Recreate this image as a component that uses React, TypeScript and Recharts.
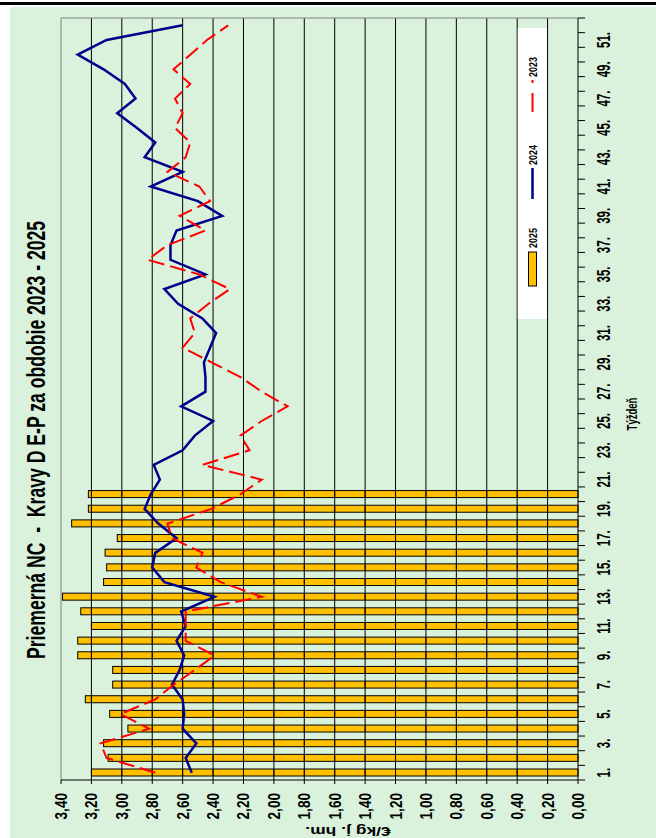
import React from 'react';
import { ComposedChart, Bar, Line, XAxis, YAxis, ReferenceLine } from 'recharts';

const WEEKS = [1,2,3,4,5,6,7,8,9,10,11,12,13,14,15,16,17,18,19,20,21,22,23,24,25,26,27,28,29,30,31,32,33,34,35,36,37,38,39,40,41,42,43,44,45,46,47,48,49,50,51,52];
const Y2025 = [3.20,3.09,3.12,2.96,3.08,3.24,3.06,3.06,3.29,3.29,3.20,3.27,3.39,3.12,3.10,3.11,3.03,3.33,3.22,3.22];
const Y2024 = [2.54,2.58,2.51,2.60,2.59,2.60,2.67,2.62,2.59,2.64,2.58,2.61,2.39,2.72,2.80,2.78,2.64,2.76,2.85,2.81,2.75,2.79,2.60,2.52,2.40,2.61,2.45,2.45,2.46,2.42,2.38,2.47,2.63,2.72,2.45,2.68,2.68,2.64,2.34,2.50,2.81,2.60,2.85,2.78,2.90,3.03,2.91,2.98,3.12,3.29,3.10,2.60];
const Y2023 = [2.78,3.10,3.14,2.82,3.01,2.78,2.66,2.52,2.39,2.58,2.58,2.58,2.08,2.35,2.51,2.47,2.67,2.70,2.41,2.22,2.08,2.47,2.16,2.22,2.08,1.91,2.08,2.22,2.41,2.60,2.52,2.55,2.43,2.29,2.49,2.83,2.70,2.45,2.62,2.42,2.49,2.70,2.58,2.55,2.65,2.60,2.65,2.55,2.66,2.55,2.44,2.30];
const Y_TICKS = [0,0.2,0.4,0.6,0.8,1.0,1.2,1.4,1.6,1.8,2.0,2.2,2.4,2.6,2.8,3.0,3.2,3.4];
const GRID_VALUES = [0.2,0.4,0.6,0.8,1.0,1.2,1.4,1.6,1.8,2.0,2.2,2.4,2.6,2.8,3.0,3.2];
const SERIES_NAMES = ['2025', '2024', '2023'];
const TITLE = 'Priemerná NC  -  Kravy D E-P za obdobie 2023 - 2025';
const X_TITLE = 'Týždeň';
const Y_TITLE = '€/kg j. hm.';

const data = WEEKS.map((w, i) => ({
  week: w,
  v2025: i < Y2025.length ? Y2025[i] : null,
  v2024: Y2024[i],
  v2023: Y2023[i],
}));

const W = 838;
const H = 656;
const PLOT_LEFT = 58;
const PLOT_RIGHT = 820;
const PLOT_TOP = 61;
const PLOT_BOTTOM = 578;
const BAND = (PLOT_RIGHT - PLOT_LEFT) / WEEKS.length;
const GREEN = '#DAF2DC';
const FONT = "'Liberation Sans', Arial, sans-serif";
const NAVY = '#00008B';
const RED = '#FF0000';
const GOLD = '#FFC000';

const XTick = (props: any) => {
  const { x, payload, index } = props;
  const cx = payload && typeof payload.coordinate === 'number' ? payload.coordinate : x;
  const half = BAND / 2;
  return (
    <g>
      <line x1={cx - half} x2={cx - half} y1={PLOT_BOTTOM} y2={PLOT_BOTTOM + 7} stroke="#000" strokeWidth={1} />
      {index === WEEKS.length - 1 && (
        <line x1={cx + half} x2={cx + half} y1={PLOT_BOTTOM} y2={PLOT_BOTTOM + 7} stroke="#000" strokeWidth={1} />
      )}
      {index % 2 === 0 && (
        <text
          transform={`translate(${cx},610) scale(0.66,1)`}
          textAnchor="middle"
          fontFamily={FONT}
          fontWeight="bold"
          fontSize={17.5}
          fill="#000"
        >
          {`${payload.value}.`}
        </text>
      )}
    </g>
  );
};

const YTick = (props: any) => {
  const { y, payload } = props;
  const label = Number(payload.value).toFixed(2).replace('.', ',');
  return (
    <g>
      <line x1={PLOT_LEFT - 4} x2={PLOT_LEFT} y1={y} y2={y} stroke="#000" strokeWidth={1} />
      <text
        transform={`translate(45,${y + 6}) scale(0.8,1)`}
        textAnchor="end"
        fontFamily={FONT}
        fontWeight="bold"
        fontSize={17}
        fill="#000"
      >
        {label}
      </text>
    </g>
  );
};

// Bar with the chart's gridlines re-drawn across it (gridlines sit on top of bars in the reference)
const BarShape = (props: any) => {
  const { x, y, width, height, value } = props;
  const v = Array.isArray(value) ? value[1] : value;
  if (!v || !height) return null;
  const perUnit = height / v;
  const base = y + height;
  return (
    <g>
      <rect x={x} y={y} width={width} height={height} fill={GOLD} stroke="#000" strokeWidth={1} />
      {GRID_VALUES.filter((g) => g < v).map((g) => (
        <line key={g} x1={x} x2={x + width} y1={base - g * perUnit} y2={base - g * perUnit} stroke="#000" strokeWidth={1} />
      ))}
    </g>
  );
};

const Overlay = () => (
  <svg width={W} height={H} style={{ position: 'absolute', left: 0, top: 0, pointerEvents: 'none', overflow: 'visible' }}>
    <line x1={PLOT_RIGHT} x2={PLOT_RIGHT} y1={PLOT_TOP} y2={PLOT_BOTTOM} stroke="#808080" strokeWidth={1} />
    <text
      transform="translate(398,45) scale(0.705,1)"
      textAnchor="middle"
      fontFamily={FONT}
      fontWeight="bold"
      fontSize={25}
      fill="#000"
      style={{ whiteSpace: 'pre' }}
    >
      {TITLE}
    </text>
    <text
      transform="translate(424,637) scale(0.68,1)"
      textAnchor="middle"
      fontFamily={FONT}
      fontWeight="bold"
      fontSize={14}
      fill="#000"
    >
      {X_TITLE}
    </text>
    <text
      transform="translate(11,348) scale(0.7,1) rotate(-90)"
      textAnchor="middle"
      fontFamily={FONT}
      fontWeight="bold"
      fontSize={17.5}
      fill="#000"
    >
      {Y_TITLE}
    </text>
    <rect x={519} y={517.8} width={291} height={29.2} fill="#fff" />
    <rect x={552} y={528.5} width={34} height={8} fill={GOLD} stroke="#000" strokeWidth={1} />
    <text transform="translate(590,537) scale(0.78,1)" fontFamily={FONT} fontWeight="bold" fontSize={11.5} fill="#000">{SERIES_NAMES[0]}</text>
    <line x1={639} x2={670} y1={532.5} y2={532.5} stroke={NAVY} strokeWidth={2.5} />
    <text transform="translate(673,537) scale(0.78,1)" fontFamily={FONT} fontWeight="bold" fontSize={11.5} fill="#000">{SERIES_NAMES[1]}</text>
    <line x1={726} x2={758} y1={532.5} y2={532.5} stroke={RED} strokeWidth={2} strokeDasharray="19 10" />
    <text transform="translate(761,537) scale(0.78,1)" fontFamily={FONT} fontWeight="bold" fontSize={11.5} fill="#000">{SERIES_NAMES[2]}</text>
  </svg>
);

export default function App() {
  return (
    <div style={{ position: 'absolute', left: 0, top: 0, width: 656, height: 838, background: '#fff', overflow: 'hidden' }}>
      <div style={{ position: 'absolute', left: 0, top: 2, width: 656, height: 3, background: '#000' }} />
      <div style={{ position: 'absolute', left: 10, top: 7, width: 646, height: 831, background: GREEN }} />
      <div
        style={{
          position: 'absolute',
          left: 0,
          top: 0,
          width: W,
          height: H,
          transformOrigin: '0 0',
          transform: `translateY(${W}px) rotate(-90deg)`,
        }}
      >
        <div style={{ position: 'absolute', left: 0, top: 0 }}>
          <ComposedChart
            width={W}
            height={H}
            data={data}
            margin={{ top: PLOT_TOP, right: W - PLOT_RIGHT, bottom: H - PLOT_BOTTOM - 40, left: PLOT_LEFT - 50 }}
            barCategoryGap={0}
          >
            <XAxis
              dataKey="week"
              type="category"
              interval={0}
              height={40}
              tickLine={false}
              axisLine={{ stroke: '#000', strokeWidth: 1 }}
              tick={<XTick />}
            />
            <YAxis
              type="number"
              domain={[0, 3.4]}
              ticks={Y_TICKS}
              width={50}
              tickLine={false}
              axisLine={{ stroke: '#000', strokeWidth: 1 }}
              tick={<YTick />}
              interval={0}
            />
            {GRID_VALUES.map((v) => (
              <ReferenceLine key={v} y={v} stroke="#000" strokeWidth={1} />
            ))}
            <ReferenceLine y={3.4} stroke="#808080" strokeWidth={1} />
            <Bar dataKey="v2025" name={SERIES_NAMES[0]} barSize={7} fill={GOLD} stroke="#000" strokeWidth={1} shape={<BarShape />} isAnimationActive={false} />
            <Line dataKey="v2024" name={SERIES_NAMES[1]} stroke={NAVY} strokeWidth={2.5} dot={false} isAnimationActive={false} />
            <Line dataKey="v2023" name={SERIES_NAMES[2]} stroke={RED} strokeWidth={2} strokeDasharray="16 6" dot={false} isAnimationActive={false} />
          </ComposedChart>
        </div>
        <Overlay />
      </div>
    </div>
  );
}
